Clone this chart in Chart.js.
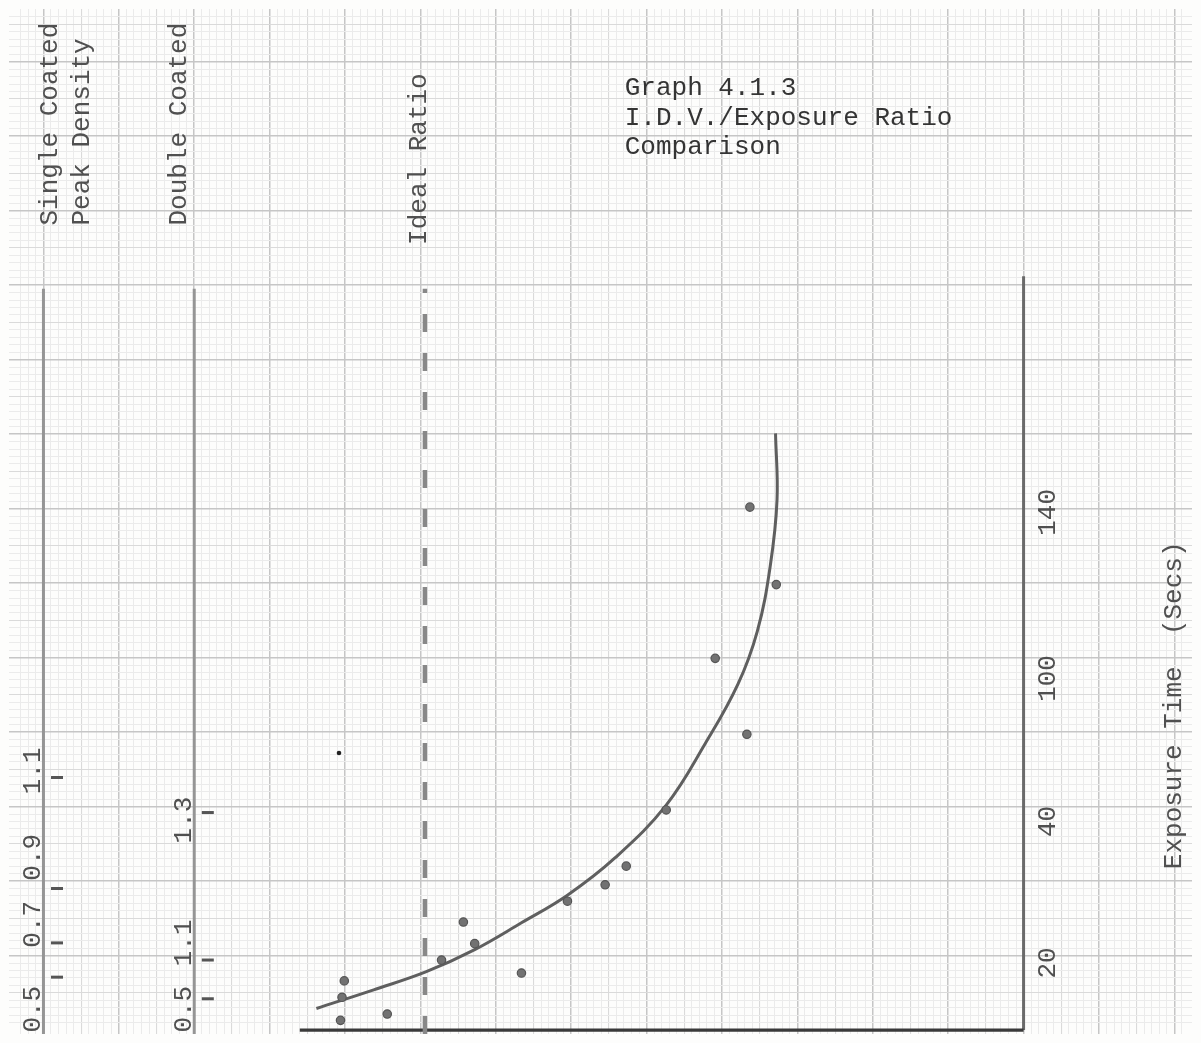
<!DOCTYPE html>
<html>
<head>
<meta charset="utf-8">
<title>Graph 4.1.3 – I.D.V./Exposure Ratio Comparison</title>
<script src="https://cdn.jsdelivr.net/npm/chart.js@4.4.1/dist/chart.umd.min.js"></script>
<style>
  html, body { margin: 0; padding: 0; background: #fdfdfc; }
  #wrap { width: 1201px; height: 1043px; position: relative; }
  canvas { display: block; }
</style>
</head>
<body>
<div id="wrap"><canvas id="graph"></canvas></div>
<script>
// ---- Graph-paper frame (1 unit = one heavy 1 cm square, ruled every 0.1) ----
const paperX = [-0.457, 15.234];
const paperY = [-0.053, 13.707];

// ---- Measured points: ratio position (across) vs exposure-time position (up) ----
const ratioPos = [3.99, 3.96, 3.94, 4.56, 5.28, 5.57, 5.72, 6.34, 6.95, 7.45, 7.73, 8.26, 9.33, 8.91, 9.72, 9.37];
const timePos  = [0.66, 0.44, 0.13, 0.215, 0.94, 1.45, 1.16, 0.765, 1.73, 1.95, 2.20, 2.955, 3.97, 4.99, 5.98, 7.02];

// lone reading well left of the curve
const outlierRatio = [3.92];
const outlierTime  = [3.72];

// ---- Hand-drawn trend curve ----
const fitRatio = [3.62, 4.38, 5.07, 5.72, 6.34, 6.95, 7.58, 8.26, 8.78, 9.21, 9.47, 9.64, 9.73, 9.71];
const fitTime  = [0.29, 0.54, 0.78, 1.08, 1.44, 1.81, 2.31, 3.02, 3.85, 4.64, 5.36, 6.23, 7.12, 8.01];

// ---- Reference lines / axes ----
const idealRatio = 5.06;
const singleAxisAt = 0.0;
const doubleAxisAt = 2.0;
const timeAxisAt = 13.0;
const ratioAxisStart = 3.4;
const axisTop = 9.95;
const timeAxisTop = 10.12;

// ---- Exposure time scale (secs) ----
const timeTickLabels = ['20', '40', '100', '140'];
const timeTickPos = [0.9, 2.8, 4.72, 6.95];

// ---- Peak density scales ----
const singleTickLabels = ['0.5', '0.7', '0.9', '1.1'];
const singleLabelPos = [0.28, 1.42, 2.32, 3.48];
const singleTickPos = [0.71, 1.17, 1.90, 3.39];
const doubleTickLabels = ['0.5', '1.1', '1.3'];
const doubleLabelPos = [0.28, 1.17, 2.82];
const doubleTickPos = [0.42, 0.94, 2.92];

// ---- Headings ----
const titleLines = ['Graph 4.1.3', 'I.D.V./Exposure Ratio', 'Comparison'];
const singleHeading = ['Single Coated', 'Peak Density'];
const doubleHeading = 'Double Coated';
const idealHeading = 'Ideal Ratio';
const timeHeading = 'Exposure Time  (Secs)';

const typeFace = '"Liberation Mono", "DejaVu Sans Mono", monospace';
const inkDark = '#343434';
const inkMid = '#505050';

const toXY = (xs, ys) => xs.map((v, i) => ({ x: v, y: ys[i] }));

function gridStyle(ctx) {
  const v = ctx.tick.value;
  const k = Math.round(v * 10);
  if (Math.abs(v * 10 - k) > 1e-6) return 'rgba(0,0,0,0)';
  if (k % 10 === 0) return '#c6c6c6';
  if (k % 5 === 0) return '#dadada';
  return '#ebebeb';
}
function gridWidth(ctx) {
  const k = Math.round(ctx.tick.value * 10);
  if (k % 10 === 0) return 1.5;
  if (k % 5 === 0) return 1.1;
  return 1;
}

// typed lettering, placed through the scales
const typedLettering = {
  id: 'typedLettering',
  afterDatasetsDraw(chart) {
    const { ctx, scales: { x, y } } = chart;
    const px = v => x.getPixelForValue(v);
    const py = v => y.getPixelForValue(v);
    const upright = (text, xv, yv, align, color) => {
      ctx.save();
      ctx.translate(px(xv), py(yv));
      ctx.rotate(-Math.PI / 2);
      ctx.textAlign = align;
      ctx.fillStyle = color;
      ctx.fillText(text, 0, 0);
      ctx.restore();
    };
    ctx.save();
    ctx.font = '26px ' + typeFace;
    ctx.textBaseline = 'alphabetic';

    // heading block
    ctx.fillStyle = inkDark;
    ctx.textAlign = 'left';
    titleLines.forEach((t, i) => ctx.fillText(t, px(7.71), py(12.55 - i * 0.396)));

    // column headings, typed sideways
    upright(singleHeading[0], 0.18, 10.80, 'left', inkMid);
    upright(singleHeading[1], 0.61, 10.80, 'left', inkMid);
    upright(doubleHeading, 1.89, 10.80, 'left', inkMid);
    upright(idealHeading, 5.07, 10.54, 'left', inkMid);
    upright(timeHeading, 15.09, 2.16, 'left', inkMid);

    // density scale figures
    singleTickLabels.forEach((t, i) => upright(t, -0.05, singleLabelPos[i], 'center', inkMid));
    doubleTickLabels.forEach((t, i) => upright(t, 1.96, doubleLabelPos[i], 'center', inkMid));

    // exposure time figures
    timeTickLabels.forEach((t, i) => upright(t, 13.42, timeTickPos[i], 'center', inkMid));
    ctx.restore();
  }
};

const chart = new Chart(document.getElementById('graph'), {
  type: 'scatter',
  data: {
    datasets: [
      {
        label: 'Readings',
        data: toXY(ratioPos, timePos),
        pointRadius: 4.2,
        pointBackgroundColor: '#727272',
        pointBorderColor: '#555',
        pointBorderWidth: 1.2
      },
      {
        label: 'Outlier',
        data: toXY(outlierRatio, outlierTime),
        pointRadius: 2.3,
        pointBackgroundColor: '#222',
        pointBorderColor: '#222',
        pointBorderWidth: 0
      },
      {
        label: 'Trend',
        data: toXY(fitRatio, fitTime),
        showLine: true,
        tension: 0.4,
        borderColor: '#5f5f5f',
        borderWidth: 3,
        pointRadius: 0
      },
      {
        label: 'Single coated ticks',
        data: toXY(singleTickPos.map(() => singleAxisAt + 0.18), singleTickPos),
        pointStyle: 'line',
        pointRadius: 6,
        borderWidth: 3,
        pointBorderColor: '#555'
      },
      {
        label: 'Double coated ticks',
        data: toXY(doubleTickPos.map(() => doubleAxisAt + 0.18), doubleTickPos),
        pointStyle: 'line',
        pointRadius: 6,
        borderWidth: 3,
        pointBorderColor: '#555'
      },
      {
        label: 'Ideal Ratio',
        data: toXY([idealRatio, idealRatio], [paperY[0], axisTop]),
        showLine: true,
        borderColor: '#888',
        borderWidth: 4.5,
        borderDash: [18, 21],
        pointRadius: 0
      },
      {
        label: 'Ratio axis',
        data: toXY([ratioAxisStart, timeAxisAt], [0, 0]),
        showLine: true,
        borderColor: '#3a3a3a',
        borderWidth: 3.2,
        pointRadius: 0
      },
      {
        label: 'Exposure time axis',
        data: toXY([timeAxisAt, timeAxisAt], [0, timeAxisTop]),
        showLine: true,
        borderColor: '#6a6a6a',
        borderWidth: 3,
        pointRadius: 0
      },
      {
        label: 'Single coated scale',
        data: toXY([singleAxisAt, singleAxisAt], [paperY[0], axisTop]),
        showLine: true,
        borderColor: '#959595',
        borderWidth: 3,
        pointRadius: 0
      },
      {
        label: 'Double coated scale',
        data: toXY([doubleAxisAt, doubleAxisAt], [paperY[0], axisTop]),
        showLine: true,
        borderColor: '#959595',
        borderWidth: 3,
        pointRadius: 0
      }
    ]
  },
  options: {
    responsive: true,
    maintainAspectRatio: false,
    animation: false,
    events: [],
    layout: { padding: 0 },
    plugins: { legend: { display: false }, tooltip: { enabled: false }, title: { display: false } },
    scales: {
      x: {
        type: 'linear',
        min: paperX[0],
        max: paperX[1],
        ticks: { display: false, stepSize: 0.1 },
        border: { display: false },
        grid: { drawTicks: false, color: gridStyle, lineWidth: gridWidth }
      },
      y: {
        type: 'linear',
        min: paperY[0],
        max: paperY[1],
        ticks: { display: false, stepSize: 0.1 },
        border: { display: false },
        grid: { drawTicks: false, color: gridStyle, lineWidth: gridWidth }
      }
    }
  },
  plugins: [typedLettering]
});
</script>
</body>
</html>
